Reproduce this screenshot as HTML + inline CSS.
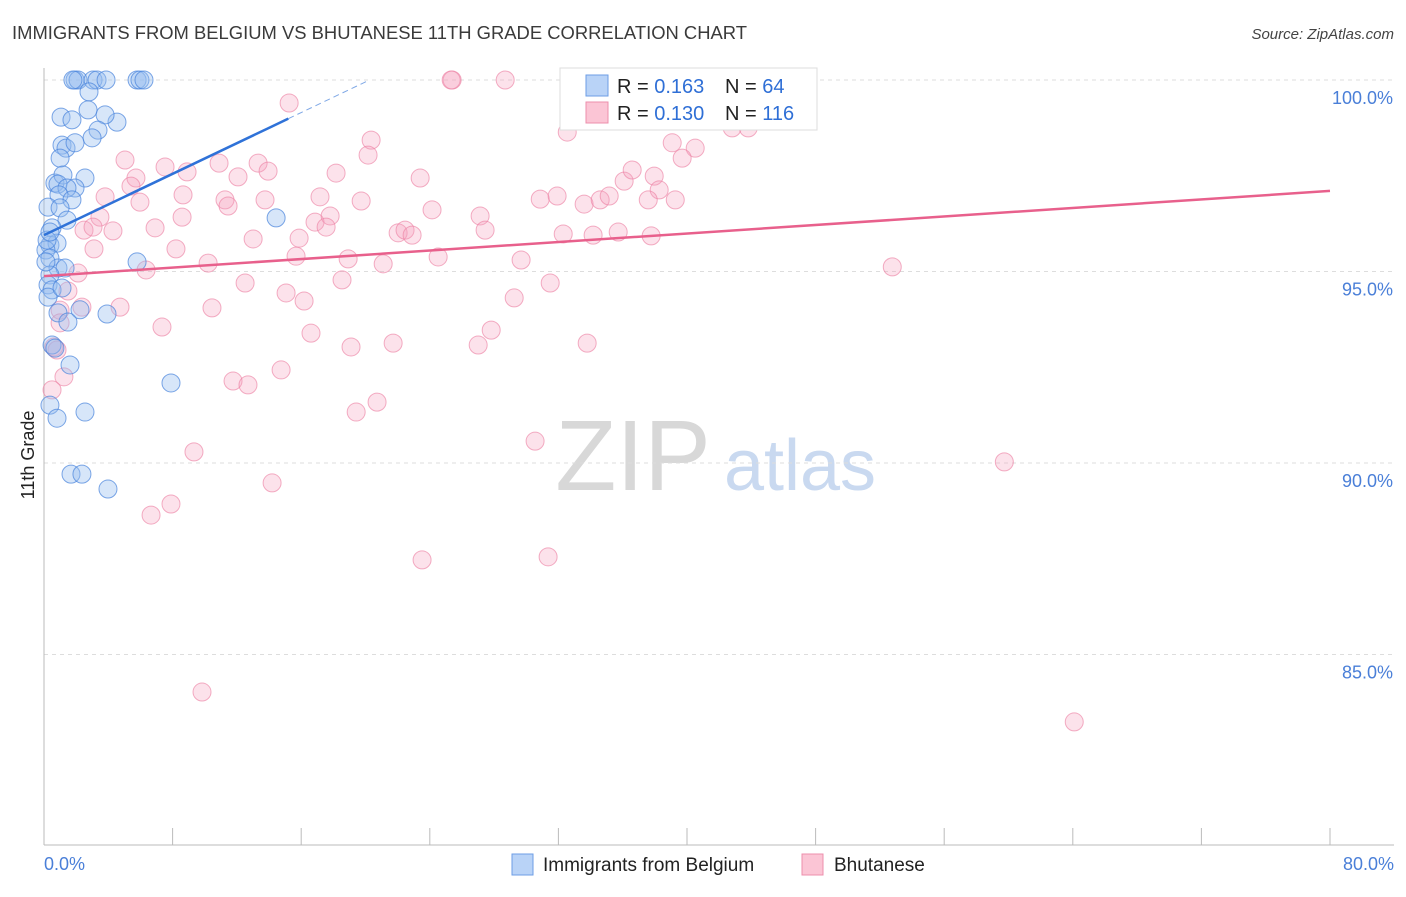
<!DOCTYPE html>
<html><head><meta charset="utf-8"><style>
body{margin:0;background:#fff;font-family:"Liberation Sans",sans-serif;}
svg text{font-family:"Liberation Sans",sans-serif;}
</style></head><body>
<svg id="chart" width="1406" height="892" viewBox="0 0 1406 892" xmlns="http://www.w3.org/2000/svg">
<text x="12" y="39" font-size="18" fill="#3a3a3a" textLength="735" lengthAdjust="spacingAndGlyphs">IMMIGRANTS FROM BELGIUM VS BHUTANESE 11TH GRADE CORRELATION CHART</text>
<text x="1394" y="39" font-size="15" fill="#444" text-anchor="end" font-style="italic">Source: ZipAtlas.com</text>
<g>
<text x="633" y="490" font-size="100" fill="#d8d8d8" font-family="Liberation Serif" text-anchor="middle">ZIP</text>
<text x="800" y="490" font-size="72" fill="#c9d9f0" text-anchor="middle">atlas</text>
</g>
<g id="grid"></g>
<g id="axes"></g>
<g id="pts"></g>
<g id="trends"></g>
<text transform="translate(34,455) rotate(-90)" font-size="18" fill="#222" text-anchor="middle">11th Grade</text>
<text x="44" y="870" font-size="18" fill="#4a7fd8">0.0%</text>
<text x="1394" y="870" font-size="18" fill="#4a7fd8" text-anchor="end">80.0%</text>
<g>
<rect x="560" y="68" width="257" height="62" fill="#fff" stroke="#ddd"/>
<rect x="586" y="75" width="22" height="21" fill="#b9d3f7" stroke="#6d9ee6"/>
<rect x="586" y="102" width="22" height="21" fill="#fbc5d5" stroke="#ec8fac"/>
<text x="617" y="93" font-size="20" fill="#222">R = <tspan fill="#2f6fd6">0.163</tspan></text>
<text x="725" y="93" font-size="20" fill="#222">N = <tspan fill="#2f6fd6"> 64</tspan></text>
<text x="617" y="120" font-size="20" fill="#222">R = <tspan fill="#2f6fd6">0.130</tspan></text>
<text x="725" y="120" font-size="20" fill="#222">N = <tspan fill="#2f6fd6">116</tspan></text>
</g>
<g>
<rect x="512" y="854" width="21" height="21" fill="#b9d3f7" stroke="#6d9ee6"/>
<text x="543" y="871" font-size="19" fill="#222">Immigrants from Belgium</text>
<rect x="802" y="854" width="21" height="21" fill="#fbc5d5" stroke="#ec8fac"/>
<text x="834" y="871" font-size="19" fill="#222">Bhutanese</text>
</g>
</svg>
<script>
const blueX=[1.93,2.12,1.8,3.05,3.3,3.86,5.79,5.97,6.22,2.8,1.06,1.74,4.54,3.8,2.74,3.36,2.99,1.12,1.37,1.93,1.0,0.68,1.18,0.87,2.55,1.93,1.43,0.93,1.74,0.25,1.0,1.43,0.5,14.44,0.37,0.81,0.12,0.37,0.87,5.79,1.31,0.37,0.25,0.5,0.25,2.24,0.87,1.49,3.92,0.5,0.68,1.62,7.9,0.37,2.55,0.81,1.68,2.36,3.98,0.19,0.12,0.37,1.12];
const blueY=[100,100,100,100,100,100,100,100,100,99.69,99.03,98.96,98.9,99.09,99.22,98.69,98.49,98.3,98.22,98.36,97.96,97.31,97.52,97.28,97.44,97.18,97.18,97.0,96.87,96.68,96.66,96.34,96.14,96.4,95.69,95.74,95.56,95.35,95.09,95.25,95.09,94.91,94.65,94.52,94.33,94.0,93.92,93.68,93.89,93.08,93.0,92.56,92.09,91.51,91.33,91.17,89.71,89.71,89.32,95.82,95.25,96.03,94.57];
const pinkX=[15.25,25.39,28.69,25.33,43.12,44.87,32.55,42.81,43.81,39.08,40.51,39.7,20.35,20.16,5.04,7.53,8.9,10.89,13.32,13.94,12.07,5.72,5.41,3.8,5.97,8.65,11.26,11.45,13.75,17.17,18.17,19.73,23.4,30.87,31.92,33.6,34.6,35.16,36.09,36.59,37.96,38.27,37.59,39.27,3.48,8.59,16.86,17.8,17.55,24.14,27.13,27.44,22.03,22.46,22.9,2.49,3.05,4.29,6.91,13.01,15.87,3.11,8.21,15.68,18.92,21.1,24.52,29.68,32.3,34.16,35.72,37.77,52.77,6.35,10.21,2.12,12.51,15.06,16.18,18.54,31.49,29.25,1.49,1.0,2.36,4.73,10.45,7.34,16.61,27.82,27.01,19.1,21.72,33.79,0.62,1.24,11.76,12.69,14.75,20.72,19.42,0.5,30.55,9.33,14.19,59.74,7.9,6.66,31.36,23.52,9.83,64.09,1.0,0.81];
const pinkY=[99.4,100,100,100,100,99.95,98.64,98.75,98.75,98.36,98.22,97.96,98.43,98.04,97.91,97.73,97.6,97.83,97.83,97.62,97.47,97.44,97.23,96.95,96.81,97.0,96.87,96.71,96.87,96.95,97.57,96.84,97.44,96.89,96.97,96.76,96.87,96.97,97.36,97.65,97.49,97.13,96.87,96.87,96.42,96.42,96.29,96.45,96.16,96.61,96.45,96.08,96.01,96.08,95.95,96.08,96.16,96.06,96.14,95.85,95.87,95.59,95.59,95.4,95.33,95.2,95.38,95.3,95.98,95.95,96.03,95.93,95.12,95.04,95.22,94.96,94.7,94.44,94.23,94.78,94.7,94.31,94.49,93.99,94.07,94.07,94.05,93.55,93.39,93.47,93.08,93.03,93.13,93.13,93.03,92.25,92.14,92.04,92.43,91.59,91.33,91.91,90.57,90.29,89.48,90.03,88.93,88.64,87.55,87.47,84.02,83.24,93.66,92.95];
const yTicks=[100,95,90,85];
const yTickLabels=["100.0%","95.0%","90.0%","85.0%"];
const xTicks=[0,8,16,24,32,40,48,56,64,72,80];
const blueTrend=[95.95,0.2];
const pinkTrend=[94.88,0.0278];
const NS="http://www.w3.org/2000/svg";
const sx=v=>44+v*16.075;
const sy=v=>80+(100-v)*38.3;
function mk(tag,attrs,parent){const e=document.createElementNS(NS,tag);for(const k in attrs)e.setAttribute(k,attrs[k]);parent.appendChild(e);return e;}
const grid=document.getElementById('grid'),axes=document.getElementById('axes'),pts=document.getElementById('pts'),tr=document.getElementById('trends');
yTicks.forEach((t,i)=>{
  const l=mk('line',{x1:44,x2:1394,y1:sy(t),y2:sy(t),stroke:'#ddd','stroke-dasharray':'4,4'},grid);
  
  
  const tx=mk('text',{x:1393,y:sy(t)+24,'font-size':18,fill:'#4a7fd8','text-anchor':'end'},axes);
  tx.textContent=yTickLabels[i];
  
  
});
const ax=mk('line',{x1:44,x2:1394,y1:845,y2:845,stroke:'#bbb'},axes);


const ay=mk('line',{x1:44,x2:44,y1:68,y2:845,stroke:'#bbb'},axes);


xTicks.forEach(t=>{
  const l=mk('line',{x1:sx(t),x2:sx(t),y1:828,y2:845,stroke:'#bbb'},axes);
  
  
});
pinkX.forEach((x,i)=>{
  const c=mk('circle',{cx:sx(x),cy:sy(pinkY[i]),r:9,fill:'rgba(246,160,188,0.3)',stroke:'rgba(236,130,164,0.65)','stroke-width':1},pts);
  
  
});
blueX.forEach((x,i)=>{
  const c=mk('circle',{cx:sx(x),cy:sy(blueY[i]),r:9,fill:'rgba(150,190,240,0.38)',stroke:'rgba(70,130,220,0.7)','stroke-width':1},pts);
  
  
});
const bl=mk('line',{x1:sx(0),y1:sy(blueTrend[0]),x2:sx(15.2),y2:sy(blueTrend[0]+blueTrend[1]*15.2),stroke:'#2f72d8','stroke-width':2.5},tr);


const bd=mk('line',{x1:sx(15.2),y1:sy(blueTrend[0]+blueTrend[1]*15.2),x2:sx(20.2),y2:sy(blueTrend[0]+blueTrend[1]*20.2),stroke:'#7fa8e6','stroke-width':1,'stroke-dasharray':'6,4'},tr);


const pl=mk('line',{x1:sx(0),y1:sy(pinkTrend[0]),x2:sx(80),y2:sy(pinkTrend[0]+pinkTrend[1]*80),stroke:'#e8608c','stroke-width':2.5},tr);


</script>
</body></html>
